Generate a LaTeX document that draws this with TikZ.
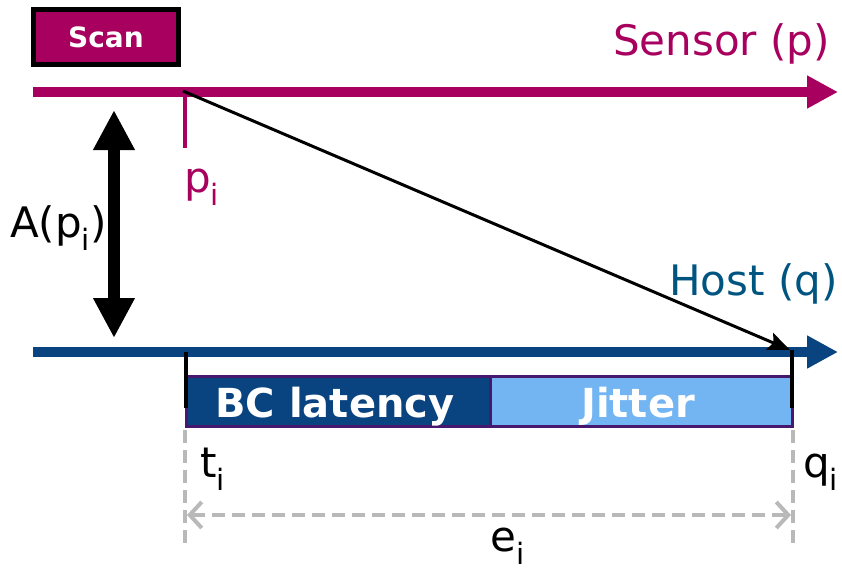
\documentclass[tikz,border=0pt]{standalone}
\usepackage{fontspec}
\setmainfont{DejaVu Sans}
\usetikzlibrary{arrows.meta}
\definecolor{mag}{RGB}{168,0,94}
\definecolor{hostline}{RGB}{10,68,128}
\definecolor{hosttext}{RGB}{0,84,128}
\definecolor{lightblue}{RGB}{115,180,242}
\definecolor{barborder}{RGB}{70,25,110}
\definecolor{dgray}{RGB}{185,185,185}
\tikzset{
  lbl/.style={inner sep=0pt, font=\fontsize{42}{50}\selectfont},
  barlbl/.style={inner sep=0pt, text=white, font=\fontsize{40}{48}\selectfont\bfseries},
  axisline/.style={line width=10pt, -{Triangle[length=31pt,width=31pt]}},
  tickline/.style={line width=4pt},
  dimline/.style={dgray, line width=4.5pt, dash pattern=on 13pt off 7pt},
  barbox/.style={draw=barborder, line width=3pt},
}
\begin{document}
\begin{tikzpicture}[x=1pt,y=-1pt]
\useasboundingbox (0,0) rectangle (842,573);
% Scan box
\node[draw=black, line width=5.5pt, fill=mag, minimum width=145pt, minimum height=55pt, inner sep=0pt,
  text=white, font=\fontsize{28}{34}\selectfont\bfseries] (scan) at (106,37) {Scan};
% sensor axis
\coordinate (s0) at (33,92);
\coordinate (s1) at (838,92);
\draw[mag, axisline] (s0) -- (s1);
\node[lbl, text=mag, anchor=base east] (sensor) at (830,55) {Sensor (p)};
% p_i tick
\coordinate (pt0) at (185,93);
\coordinate (pt1) at (185,148);
\draw[mag, line width=3.5pt] (pt0) -- (pt1);
\node[lbl, text=mag, anchor=base west] (pi) at (184,192) {p\textsubscript{i}};
% host axis
\coordinate (h0) at (33,352);
\coordinate (h1) at (838,352);
\draw[hostline, axisline] (h0) -- (h1);
\node[lbl, text=hosttext, anchor=base east] (host) at (838,295) {Host (q)};
% A(p_i) double arrow
\coordinate (a0) at (114,110);
\coordinate (a1) at (114,338);
\draw[line width=12pt, {Triangle[length=40pt,width=39pt]}-{Triangle[length=40pt,width=39pt]}] (a0) -- (a1);
\node[lbl, anchor=base west] (apl) at (10,237) {A(p\textsubscript{i})};
% bars
\node[barbox, fill=hostline, minimum width=303.5pt, minimum height=50pt, inner sep=0pt] (bc) at (338.25,401.5) {};
\node[barbox, fill=lightblue, minimum width=302.5pt, minimum height=50pt, inner sep=0pt] (jit) at (641.25,401.5) {};
\node[barlbl, anchor=base] (bct) at (335,417) {BC latency};
\node[barlbl, anchor=base] (jitt) at (638,417) {Jitter};
% black ticks on host axis
\coordinate (t0) at (186,352);
\coordinate (t1) at (186,408);
\coordinate (q0) at (792,350);
\coordinate (q1) at (792,408);
\draw[tickline] (t0) -- (t1);
\draw[tickline] (q0) -- (q1);
% diagonal
\coordinate (d0) at (183,91);
\coordinate (d1) at (790,350);
\draw[line width=3pt, -{Stealth[length=22pt,width=18pt,inset=4pt]}] (d0) -- (d1);
% gray dimension lines
\coordinate (g0) at (185,430);
\coordinate (g1) at (185,550);
\coordinate (g2) at (793,430);
\coordinate (g3) at (793,550);
\draw[dimline] (g0) -- (g1);
\draw[dimline] (g2) -- (g3);
\coordinate (e0) at (187,515);
\coordinate (e1) at (791,515);
\draw[dimline, {Straight Barb[length=12pt,width=26pt,line width=4pt]}-{Straight Barb[length=12pt,width=26pt,line width=4pt]}] (e0) -- (e1);
% labels
\node[lbl, anchor=base west] (ti) at (200,477) {t\textsubscript{i}};
\node[lbl, anchor=base west] (qi) at (803,477) {q\textsubscript{i}};
\node[lbl, anchor=base west] (ei) at (490,551) {e\textsubscript{i}};
\end{tikzpicture}
\end{document}
